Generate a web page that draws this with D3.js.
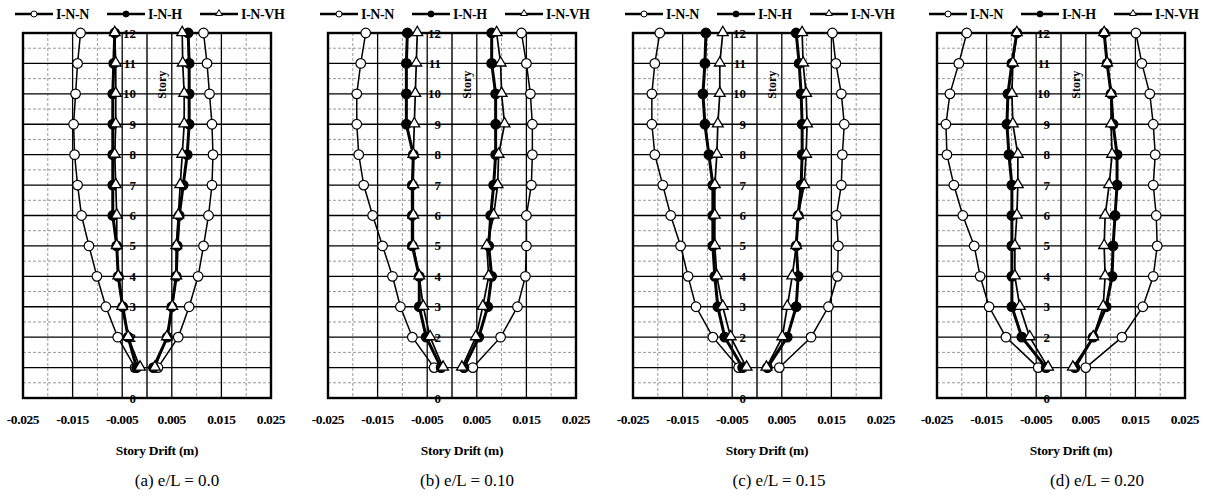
<!DOCTYPE html>
<html>
<head>
<meta charset="utf-8">
<script src="https://cdn.jsdelivr.net/npm/d3@7"></script>
<style>
  body { margin: 0; background: #fff; }
  svg text { font-family: "Liberation Serif", "Times New Roman", serif; }
</style>
</head>
<body>
<script>
// stories 1..12
var stories = [1, 2, 3, 4, 5, 6, 7, 8, 9, 10, 11, 12]
var storyTicks = [0, 1, 2, 3, 4, 5, 6, 7, 8, 9, 10, 11, 12]
var driftTicks = [-0.025, -0.015, -0.005, 0.005, 0.015, 0.025]
var driftMinor = [-0.02, -0.01, 0.01, 0.02]
var seriesNames = ['I-N-N', 'I-N-H', 'I-N-VH']
var captions = ['(a) e/L = 0.0', '(b) e/L = 0.10', '(c) e/L = 0.15', '(d) e/L = 0.20']

// (a) e/L = 0.0
var a_N_neg = [-0.0024, -0.0059, -0.0083, -0.0101, -0.0117, -0.0132, -0.0140, -0.0146, -0.0148, -0.0144, -0.0140, -0.0134]
var a_N_pos = [0.0022, 0.0063, 0.0085, 0.0103, 0.0114, 0.0124, 0.0131, 0.0133, 0.0131, 0.0126, 0.0121, 0.0114]
var a_H_neg = [-0.0021, -0.0038, -0.0049, -0.0058, -0.0061, -0.0069, -0.0069, -0.0069, -0.0069, -0.0069, -0.0067, -0.0065]
var a_H_pos = [0.0013, 0.0041, 0.0050, 0.0059, 0.0061, 0.0065, 0.0073, 0.0081, 0.0085, 0.0085, 0.0085, 0.0083]
var a_VH_neg = [-0.0014, -0.0038, -0.0050, -0.0058, -0.0061, -0.0061, -0.0063, -0.0065, -0.0063, -0.0063, -0.0063, -0.0065]
var a_VH_pos = [0.0016, 0.0040, 0.0051, 0.0059, 0.0059, 0.0063, 0.0067, 0.0071, 0.0075, 0.0075, 0.0072, 0.0071]

// (b) e/L = 0.10
var b_N_neg = [-0.0036, -0.0080, -0.0104, -0.0120, -0.0140, -0.0160, -0.0178, -0.0188, -0.0192, -0.0192, -0.0184, -0.0174]
var b_N_pos = [0.0042, 0.0098, 0.0132, 0.0148, 0.0150, 0.0150, 0.0160, 0.0162, 0.0162, 0.0158, 0.0150, 0.0140]
var b_H_neg = [-0.0022, -0.0052, -0.0066, -0.0066, -0.0080, -0.0080, -0.0080, -0.0078, -0.0092, -0.0092, -0.0092, -0.0090]
var b_H_pos = [0.0024, 0.0054, 0.0072, 0.0080, 0.0074, 0.0078, 0.0084, 0.0088, 0.0088, 0.0088, 0.0080, 0.0080]
var b_VH_neg = [-0.0018, -0.0044, -0.0058, -0.0066, -0.0078, -0.0078, -0.0078, -0.0078, -0.0076, -0.0074, -0.0072, -0.0070]
var b_VH_pos = [0.0020, 0.0048, 0.0062, 0.0074, 0.0070, 0.0084, 0.0092, 0.0094, 0.0106, 0.0100, 0.0098, 0.0090]

// (c) e/L = 0.15
var c_N_neg = [-0.0037, -0.0089, -0.0123, -0.0139, -0.0154, -0.0174, -0.0190, -0.0206, -0.0212, -0.0212, -0.0206, -0.0196]
var c_N_pos = [0.0045, 0.0109, 0.0144, 0.0162, 0.0164, 0.0160, 0.0170, 0.0172, 0.0176, 0.0170, 0.0159, 0.0152]
var c_H_neg = [-0.0029, -0.0065, -0.0079, -0.0085, -0.0089, -0.0089, -0.0089, -0.0097, -0.0105, -0.0109, -0.0105, -0.0103]
var c_H_pos = [0.0021, 0.0061, 0.0079, 0.0083, 0.0079, 0.0083, 0.0089, 0.0091, 0.0091, 0.0089, 0.0085, 0.0079]
var c_VH_neg = [-0.0021, -0.0053, -0.0069, -0.0081, -0.0085, -0.0085, -0.0085, -0.0081, -0.0079, -0.0075, -0.0075, -0.0069]
var c_VH_pos = [0.0019, 0.0051, 0.0061, 0.0071, 0.0079, 0.0083, 0.0095, 0.0099, 0.0101, 0.0099, 0.0093, 0.0091]

// (d) e/L = 0.20
var d_N_neg = [-0.0046, -0.0111, -0.0145, -0.0163, -0.0175, -0.0198, -0.0216, -0.0230, -0.0232, -0.0224, -0.0206, -0.0190]
var d_N_pos = [0.0050, 0.0123, 0.0165, 0.0186, 0.0194, 0.0192, 0.0186, 0.0190, 0.0186, 0.0179, 0.0163, 0.0151]
var d_H_neg = [-0.0030, -0.0079, -0.0099, -0.0099, -0.0099, -0.0099, -0.0099, -0.0105, -0.0109, -0.0107, -0.0099, -0.0089]
var d_H_pos = [0.0028, 0.0065, 0.0091, 0.0103, 0.0105, 0.0109, 0.0113, 0.0113, 0.0105, 0.0101, 0.0093, 0.0087]
var d_VH_neg = [-0.0026, -0.0063, -0.0083, -0.0093, -0.0093, -0.0089, -0.0087, -0.0087, -0.0097, -0.0099, -0.0097, -0.0089]
var d_VH_pos = [0.0024, 0.0065, 0.0085, 0.0089, 0.0087, 0.0089, 0.0097, 0.0103, 0.0101, 0.0101, 0.0093, 0.0087]

var panels = [
  [[a_N_neg, a_N_pos], [a_H_neg, a_H_pos], [a_VH_neg, a_VH_pos]],
  [[b_N_neg, b_N_pos], [b_H_neg, b_H_pos], [b_VH_neg, b_VH_pos]],
  [[c_N_neg, c_N_pos], [c_H_neg, c_H_pos], [c_VH_neg, c_VH_pos]],
  [[d_N_neg, d_N_pos], [d_H_neg, d_H_pos], [d_VH_neg, d_VH_pos]]
]

var W = 1211
var H = 496
var panel_left = [23, 328, 633, 937]
var caption_shift = [30, 15, 22, 36]
var pw = 248
var plot_top = 33
var plot_bottom = 398

var line_widths = [1.5, 3, 1.7]

var svg = d3.select('body').append('svg').attr('width', W).attr('height', H)

panels.forEach(function (series, pi) {
  var x = d3.scaleLinear().domain([-0.025, 0.025]).range([panel_left[pi], panel_left[pi] + pw])
  var y = d3.scaleLinear().domain([0, 12]).range([plot_bottom, plot_top])
  var g = svg.append('g')

  // minor grid (dashed)
  driftMinor.forEach(function (v) {
    g.append('line').attr('x1', x(v)).attr('x2', x(v)).attr('y1', plot_top).attr('y2', plot_bottom)
      .attr('stroke', '#999').attr('stroke-width', 1).attr('stroke-dasharray', '3,2')
  })
  d3.range(0.5, 12, 1).forEach(function (s) {
    g.append('line').attr('x1', x(-0.025)).attr('x2', x(0.025)).attr('y1', y(s)).attr('y2', y(s))
      .attr('stroke', '#999').attr('stroke-width', 1).attr('stroke-dasharray', '3,2')
  })
  // major grid
  driftTicks.forEach(function (v) {
    g.append('line').attr('x1', x(v)).attr('x2', x(v)).attr('y1', plot_top).attr('y2', plot_bottom)
      .attr('stroke', '#000').attr('stroke-width', 1.3)
  })
  storyTicks.forEach(function (s) {
    g.append('line').attr('x1', x(-0.025)).attr('x2', x(0.025)).attr('y1', y(s)).attr('y2', y(s))
      .attr('stroke', '#000').attr('stroke-width', 1.3)
  })
  // vertical axis at zero
  g.append('line').attr('x1', x(0)).attr('x2', x(0)).attr('y1', plot_top).attr('y2', plot_bottom)
    .attr('stroke', '#000').attr('stroke-width', 1.4)
  // border
  g.append('rect').attr('x', x(-0.025)).attr('y', plot_top).attr('width', pw).attr('height', plot_bottom - plot_top)
    .attr('fill', 'none').attr('stroke', '#000').attr('stroke-width', 2.4)

  // story labels
  g.selectAll('text.story').data(storyTicks).enter().append('text')
    .attr('x', x(0) - 11).attr('y', function (d) { return y(d) })
    .attr('dy', '0.35em').attr('text-anchor', 'end')
    .style('font-size', '13px').style('font-weight', 'bold')
    .text(function (d) { return d })
  g.append('text')
    .attr('transform', 'translate(' + (x(0) + 19) + ',' + y(10.3) + ') rotate(-90)')
    .attr('text-anchor', 'middle')
    .style('font-size', '12px').style('font-weight', 'bold')
    .text('Story')

  // drift tick labels
  g.selectAll('text.drift').data(driftTicks).enter().append('text')
    .attr('x', function (d) { return x(d) }).attr('y', plot_bottom + 21)
    .attr('dy', '0.35em').attr('text-anchor', 'middle')
    .style('font-size', '13.5px').style('font-weight', 'bold').style('letter-spacing', '-0.4px')
    .text(function (d) { return d.toFixed(3) })
  g.append('text').attr('x', x(0) + 10).attr('y', plot_bottom + 52).attr('dy', '0.35em')
    .attr('text-anchor', 'middle').style('font-size', '13.5px').style('font-weight', 'bold')
    .style('letter-spacing', '-0.3px').text('Story Drift (m)')
  g.append('text').attr('x', x(0) + caption_shift[pi]).attr('y', plot_bottom + 82).attr('dy', '0.35em')
    .attr('text-anchor', 'middle').style('font-size', '17px').text(captions[pi])

  var line = d3.line().x(function (d) { return x(d[0]) }).y(function (d) { return y(d[1]) })

  series.forEach(function (pair, si) {
    pair.forEach(function (vals) {
      var pts = vals.map(function (v, i) { return [v, stories[i]] })
      g.append('path').datum(pts).attr('d', line).attr('fill', 'none')
        .attr('stroke', '#000').attr('stroke-width', line_widths[si])
    })
  })
  series.forEach(function (pair, si) {
    pair.forEach(function (vals) {
      var pts = vals.map(function (v, i) { return [v, stories[i]] })
      if (si === 2) {
        g.selectAll(null).data(pts).enter().append('path')
          .attr('d', d3.symbol().type(d3.symbolTriangle).size(50))
          .attr('transform', function (d) { return 'translate(' + x(d[0]) + ',' + (y(d[1]) - 0.5) + ')' })
          .attr('fill', '#fff').attr('stroke', '#000').attr('stroke-width', 1.3)
      } else {
        g.selectAll(null).data(pts).enter().append('circle')
          .attr('cx', function (d) { return x(d[0]) }).attr('cy', function (d) { return y(d[1]) })
          .attr('r', 4.8).attr('fill', si === 0 ? '#fff' : '#000')
          .attr('stroke', '#000').attr('stroke-width', 1.2)
      }
    })
  })

  // legend
  var leg_x = [-8, 84, 177]
  seriesNames.forEach(function (name, si) {
    var lx = x(-0.025) + leg_x[si]
    var ly = 14
    g.append('line').attr('x1', lx).attr('x2', lx + 38).attr('y1', ly).attr('y2', ly)
      .attr('stroke', '#000').attr('stroke-width', 2.4)
    if (si === 2) {
      g.append('path').attr('d', d3.symbol().type(d3.symbolTriangle).size(20))
        .attr('transform', 'translate(' + (lx + 19) + ',' + (ly - 0.5) + ')')
        .attr('fill', '#fff').attr('stroke', '#000').attr('stroke-width', 1)
    } else {
      g.append('circle').attr('cx', lx + 19).attr('cy', ly).attr('r', 3)
        .attr('fill', si === 0 ? '#fff' : '#000').attr('stroke', '#000').attr('stroke-width', 1)
    }
    g.append('text').attr('x', lx + 41).attr('y', ly).attr('dy', '0.35em')
      .style('font-size', '14px').style('font-weight', 'bold').style('letter-spacing', '-0.4px')
      .text(name)
  })
})
</script>
</body>
</html>
